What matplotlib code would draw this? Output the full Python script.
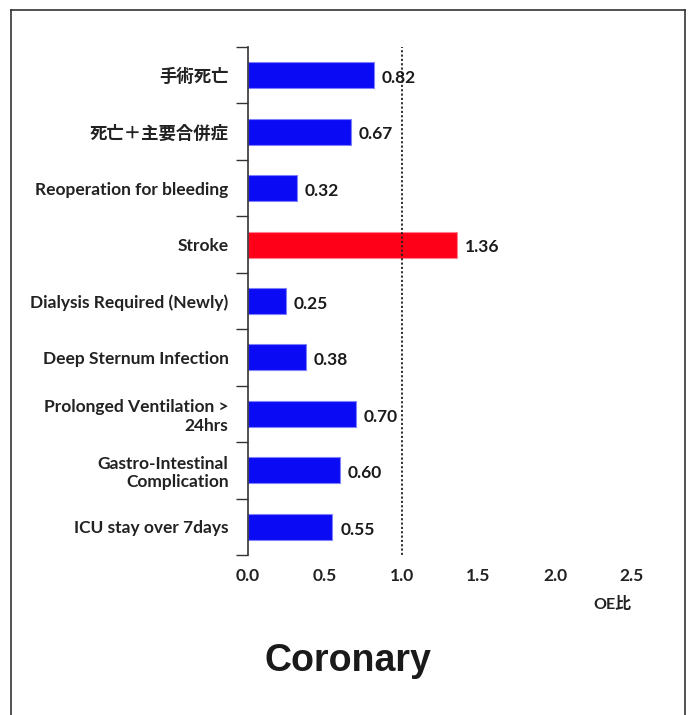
import matplotlib
matplotlib.use("Agg")
import matplotlib.pyplot as plt
from matplotlib.lines import Line2D

categories = ["手術死亡", "死亡＋主要合併症", "Reoperation for bleeding", "Stroke",
              "Dialysis Required (Newly)", "Deep Sternum Infection",
              "Prolonged Ventilation >\n24hrs", "Gastro-Intestinal\nComplication",
              "ICU stay over 7days"]
values = [0.82, 0.67, 0.32, 1.36, 0.25, 0.38, 0.70, 0.60, 0.55]
highlight = [False, False, False, True, False, False, False, False, False]
xticks = [0.0, 0.5, 1.0, 1.5, 2.0, 2.5]
xtick_labels = ["0.0", "0.5", "1.0", "1.5", "2.0", "2.5"]
xlabel = "OE比"
title = "Coronary"

fam = ["Lato", "Noto Sans CJK JP", "DejaVu Sans"]
plt.rcParams['font.family'] = fam

fig = plt.figure(figsize=(6.9, 7.15), dpi=100)
ax = fig.add_axes([248/690, 1-555/715, (632-248)/690, (555-47)/715])

n = len(categories)
ypos = list(range(n))
colors = ["#FF0019" if h else "#0A0AF5" for h in highlight]
edges = ["#FF8090" if h else "#8080FF" for h in highlight]
ax.barh(ypos, values, height=0.46, color=colors, edgecolor=edges, linewidth=0.8)
ax.set_ylim(n - 0.5, -0.5)
ax.set_xlim(0, 2.5)

for y, v in zip(ypos, values):
    ax.text(v + 0.05, y + 0.05, f"{v:.2f}", va="center", ha="left",
            fontsize=12.5, fontweight="bold", color="#1a1a1a")

ax.axvline(1.0, color="#222222", linestyle=(0, (1.2, 1.2)), linewidth=1.3)

bounds = [i - 0.5 for i in range(n + 1)]
ax.set_yticks(bounds)
ax.set_yticklabels([])
ax.tick_params(axis="y", which="major", length=8.6, width=1, color="#333333", direction="out")
ax.set_yticks(ypos, minor=True)
ax.set_yticklabels(categories, minor=True, fontsize=12.5, fontweight="bold",
                   color="#222222", linespacing=1.2)
ax.tick_params(axis="y", which="minor", length=0, pad=14)
for lab in ax.get_yticklabels(minor=True):
    if "\n" in lab.get_text():
        lab.set_y(lab.get_position()[1] - 0.04)

ax.set_xticks(xticks)
ax.set_xticklabels(xtick_labels, fontsize=12.5, fontweight="bold", color="#222222")
ax.tick_params(axis="x", length=0, pad=9.5)

for s in ["top", "right", "bottom"]:
    ax.spines[s].set_visible(False)
ax.spines["left"].set_color("#333333")
ax.spines["left"].set_linewidth(1.2)

fig.text(612/690, 1-604/715, xlabel, ha="center", va="center", fontsize=11.5,
         fontweight="bold", color="#222222")
fig.text(348/690, 1-661/715, title, ha="center", va="center", fontsize=27,
         fontweight="bold", color="#1a1a1a", family=["Liberation Sans", "DejaVu Sans"])

# outer frame
fx0, fx1, fy0 = 10.5/690, 684.5/690, 1-9.5/715
fig.add_artist(Line2D([fx0, fx0], [0, fy0], color="#333333", lw=1.2, transform=fig.transFigure))
fig.add_artist(Line2D([fx1, fx1], [0, fy0], color="#333333", lw=1.2, transform=fig.transFigure))
fig.add_artist(Line2D([fx0, fx1], [fy0, fy0], color="#333333", lw=1.2, transform=fig.transFigure))

fig.savefig("out.png", dpi=100)
